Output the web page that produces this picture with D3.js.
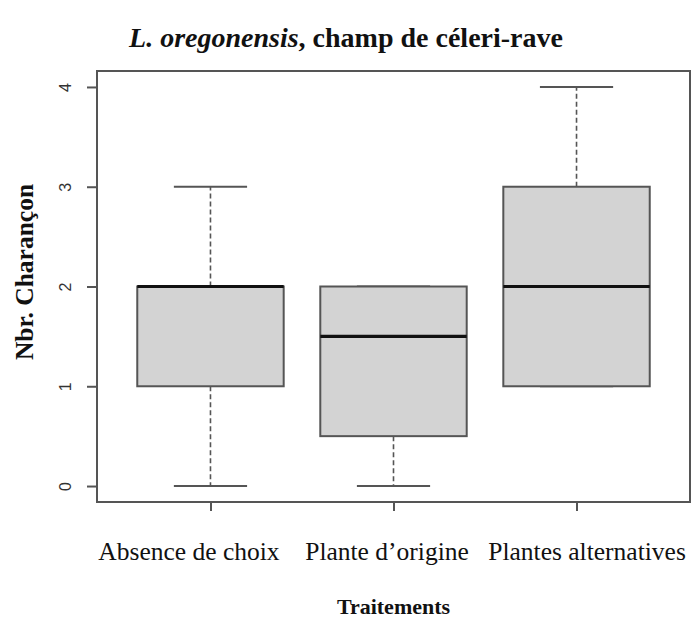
<!DOCTYPE html>
<html>
<head>
<meta charset="utf-8">
<script src="https://cdn.jsdelivr.net/npm/d3@7"></script>
<style>
  body { margin: 0; background: #fff; }
  svg { display: block; }
</style>
</head>
<body>
<div id="chart"></div>
<script>
// boxplot stats
var categories = ['Absence de choix', 'Plante d\u2019origine', 'Plantes alternatives'];
var minData    = [0, 0, 1];
var q1Data     = [1, 0.5, 1];
var medianData = [2, 1.5, 2];
var q3Data     = [2, 2, 3];
var maxData    = [3, 2, 4];
var yTicks     = [0, 1, 2, 3, 4];

var W = 691, H = 622;
var frame = {left: 97, right: 690, top: 71, bottom: 502};

// label nudges (labels in the original are not quite centred on ticks)
var labelShift = [-22, -7, 10];

var boxes = categories.map(function(c, i) {
  return {name: c, i: i + 1, min: minData[i], q1: q1Data[i], med: medianData[i], q3: q3Data[i], max: maxData[i]};
});

// R style: 4% expansion round [0.5, n+0.5] and [min, max]
var xScale = d3.scaleLinear()
  .domain([0.38, 3.62])
  .range([frame.left, frame.right]);

var yScale = d3.scaleLinear()
  .domain([-0.16, 4.16])
  .range([frame.bottom, frame.top]);

var boxHalf = (xScale(1.4) - xScale(1));
var capHalf = boxHalf / 2;
var lineCol = '#555';

var svg = d3.select('#chart').append('svg')
  .attr('width', W)
  .attr('height', H);

// frame
svg.append('rect')
  .attr('x', frame.left)
  .attr('y', frame.top)
  .attr('width', frame.right - frame.left)
  .attr('height', frame.bottom - frame.top)
  .style('fill', 'none')
  .style('stroke', lineCol)
  .style('stroke-width', 2);

var g = svg.append('g').selectAll('g').data(boxes).enter().append('g');

// whiskers
g.append('line')
  .attr('x1', function(d) { return xScale(d.i); })
  .attr('x2', function(d) { return xScale(d.i); })
  .attr('y1', function(d) { return yScale(d.q3); })
  .attr('y2', function(d) { return yScale(d.max); })
  .style('stroke', lineCol).style('stroke-width', 1.6).style('stroke-dasharray', '5,3');
g.append('line')
  .attr('x1', function(d) { return xScale(d.i); })
  .attr('x2', function(d) { return xScale(d.i); })
  .attr('y1', function(d) { return yScale(d.q1); })
  .attr('y2', function(d) { return yScale(d.min); })
  .style('stroke', lineCol).style('stroke-width', 1.6).style('stroke-dasharray', '5,3');

// staples
g.append('line')
  .attr('x1', function(d) { return xScale(d.i) - capHalf; })
  .attr('x2', function(d) { return xScale(d.i) + capHalf; })
  .attr('y1', function(d) { return yScale(d.max); })
  .attr('y2', function(d) { return yScale(d.max); })
  .style('stroke', lineCol).style('stroke-width', 2);
g.append('line')
  .attr('x1', function(d) { return xScale(d.i) - capHalf; })
  .attr('x2', function(d) { return xScale(d.i) + capHalf; })
  .attr('y1', function(d) { return yScale(d.min); })
  .attr('y2', function(d) { return yScale(d.min); })
  .style('stroke', lineCol).style('stroke-width', 2);

// boxes
g.append('rect')
  .attr('x', function(d) { return xScale(d.i) - boxHalf; })
  .attr('width', boxHalf * 2)
  .attr('y', function(d) { return yScale(d.q3); })
  .attr('height', function(d) { return yScale(d.q1) - yScale(d.q3); })
  .style('fill', '#d3d3d3')
  .style('stroke', lineCol)
  .style('stroke-width', 2);

// medians
g.append('line')
  .attr('x1', function(d) { return xScale(d.i) - boxHalf; })
  .attr('x2', function(d) { return xScale(d.i) + boxHalf; })
  .attr('y1', function(d) { return yScale(d.med); })
  .attr('y2', function(d) { return yScale(d.med); })
  .style('stroke', '#111')
  .style('stroke-width', 3.2);

// y axis
var yAxis = d3.axisLeft(yScale).tickValues(yTicks).tickSize(10).tickFormat(d3.format('d'));
var yG = svg.append('g')
  .attr('transform', 'translate(' + frame.left + ',0)')
  .call(yAxis);
yG.select('.domain').remove();
yG.selectAll('line').style('stroke', lineCol).style('stroke-width', 2);
yG.selectAll('text')
  .attr('x', 0).attr('dy', 0)
  .attr('transform', 'translate(-26,0) rotate(-90)')
  .attr('text-anchor', 'middle')
  .style('font-family', 'Liberation Sans, Arial, sans-serif')
  .style('font-size', '16px')
  .style('fill', '#333');

// x axis
var xAxis = d3.axisBottom(xScale).tickValues([1, 2, 3]).tickSize(9)
  .tickFormat(function(d) { return categories[d - 1]; });
var xG = svg.append('g')
  .attr('transform', 'translate(0,' + frame.bottom + ')')
  .call(xAxis);
xG.select('.domain').remove();
xG.selectAll('line').style('stroke', lineCol).style('stroke-width', 2);
xG.selectAll('text')
  .attr('y', 58).attr('dy', 0)
  .attr('x', function(d) { return labelShift[d - 1]; })
  .style('font-family', 'Liberation Serif, Times New Roman, serif')
  .style('font-size', '25.5px')
  .style('fill', '#111');

// titles
var title = svg.append('text')
  .attr('x', 346)
  .attr('y', 47)
  .attr('text-anchor', 'middle')
  .style('font-family', 'Liberation Serif, Times New Roman, serif')
  .style('font-size', '28px')
  .style('font-weight', 'bold')
  .style('fill', '#111');
title.append('tspan').style('font-style', 'italic').text('L. oregonensis');
title.append('tspan').text(', champ de c\u00e9leri-rave');

svg.append('text')
  .attr('x', (frame.left + frame.right) / 2)
  .attr('y', 614)
  .attr('text-anchor', 'middle')
  .style('font-family', 'Liberation Serif, Times New Roman, serif')
  .style('font-size', '22px')
  .style('font-weight', 'bold')
  .style('fill', '#111')
  .text('Traitements');

svg.append('text')
  .attr('transform', 'translate(33,272) rotate(-90)')
  .attr('text-anchor', 'middle')
  .style('font-family', 'Liberation Serif, Times New Roman, serif')
  .style('font-size', '25.5px')
  .style('font-weight', 'bold')
  .style('fill', '#111')
  .text('Nbr. Charan\u00e7on');
</script>
</body>
</html>
